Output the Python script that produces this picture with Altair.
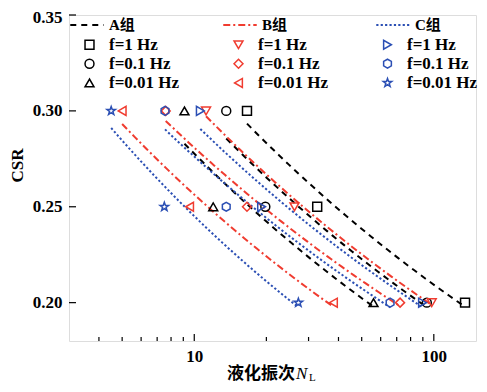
import altair as alt
import pandas as pd

# ---------------- data ----------------
CSR_LEVELS = [0.30, 0.25, 0.20]

A_1HZ = [16.6, 32.6, 135.0]
A_01HZ = [13.6, 19.8, 93.5]
A_001HZ = [9.1, 12.0, 56.0]
B_1HZ = [11.2, 26.2, 98.0]
B_01HZ = [7.6, 16.6, 72.3]
B_001HZ = [5.0, 9.56, 38.1]
C_1HZ = [10.6, 19.1, 89.7]
C_01HZ = [7.55, 13.6, 65.7]
C_001HZ = [4.5, 7.5, 27.2]

GROUPS = ["A组", "B组", "C组"]
GROUP_COLORS = ["#000000", "#f03c30", "#2b4fb4"]
GROUP_DASHES = [[6, 5], [7, 3, 2, 3], [2.2, 2.2]]

FREQ_LABELS = ["f=1 Hz", "f=0.1 Hz", "f=0.01 Hz"]

X_MAJOR = [10, 100]
X_MINOR = [4, 5, 6, 7, 8, 9, 20, 30, 40, 50, 60, 70, 80, 90]
Y_TICKS = [0.20, 0.25, 0.30, 0.35]

HEX = "M0,-1L0.866,-0.5L0.866,0.5L0,1L-0.866,0.5L-0.866,-0.5Z"
STAR = ("M0,-1L0.235,-0.324L0.951,-0.309L0.380,0.124L0.588,0.809L0,0.4"
        "L-0.588,0.809L-0.380,0.124L-0.951,-0.309L-0.235,-0.324Z")

# series: (freq label, values, shape)
SERIES = {
    "A": [(FREQ_LABELS[0], A_1HZ, "square"), (FREQ_LABELS[1], A_01HZ, "circle"),
          (FREQ_LABELS[2], A_001HZ, "triangle-up")],
    "B": [(FREQ_LABELS[0], B_1HZ, "triangle-down"), (FREQ_LABELS[1], B_01HZ, "diamond"),
          (FREQ_LABELS[2], B_001HZ, "triangle-left")],
    "C": [(FREQ_LABELS[0], C_1HZ, "triangle-right"), (FREQ_LABELS[1], C_01HZ, HEX),
          (FREQ_LABELS[2], C_001HZ, STAR)],
}

rows = []
KEYS, SHAPES, PCOLORS = [], [], []
for gi, g in enumerate(["A", "B", "C"]):
    for lab, vals, shp in SERIES[g]:
        key = g + "|" + lab
        KEYS.append(key)
        SHAPES.append(shp)
        PCOLORS.append(GROUP_COLORS[gi])
        for n, c in zip(vals, CSR_LEVELS):
            rows.append({"series": key, "grp": GROUPS[gi], "N": n, "CSR": c})
df = pd.DataFrame(rows)

W, H = 407, 326
SERIF = "Liberation Serif, Noto Sans CJK SC"
CJK = "Noto Sans CJK SC"

xscale = alt.Scale(type="log", domain=[3, 150], nice=False)
yscale = alt.Scale(domain=[0.18, 0.35], nice=False, zero=False)

xaxis = alt.Axis(values=X_MAJOR, format="d", title=None, ticks=False, tickSize=0,
                 domain=False, grid=False, labelFont=SERIF, labelFontSize=17,
                 labelFontWeight="bold", labelColor="black", labelPadding=7,
                 labelFlush=False)
yaxis = alt.Axis(values=Y_TICKS, format=".2f", title="CSR", ticks=False, tickSize=0,
                 domain=False, grid=False, labelFont=SERIF, labelFontSize=17,
                 labelFontWeight="bold", labelColor="black", labelPadding=7,
                 labelFlush=False, titleFont=SERIF, titleFontSize=17,
                 titleFontWeight="bold", titleColor="black", titlePadding=6,
                 titleY=150,
                 labelOffset={"condition": {"test": "datum.value >= 0.349", "value": 2},
                              "value": 0})

line_legend = alt.Legend(orient="none", legendX=0, legendY=-8, columns=3, title=None,
                         symbolType="stroke", symbolSize=1120, symbolStrokeWidth=2,
                         labelFont=SERIF, labelFontSize=15, labelFontWeight="bold",
                         labelColor="black", labelOffset=4, columnPadding=84,
                         gridAlign="all")
pt_legend = alt.Legend(orient="none", legendX=12, legendY=21, columns=3, title=None,
                       symbolSize=80, symbolStrokeWidth=1.5, labelFont=SERIF,
                       labelFontSize=17, labelFontWeight="bold", labelColor="black",
                       labelOffset=11, columnPadding=50, rowPadding=1.2,
                       gridAlign="all", labelExpr="split(datum.label, '|')[1]")

X = alt.X("N:Q", scale=xscale, axis=xaxis)
Y = alt.Y("CSR:Q", scale=yscale, axis=yaxis)

lines = alt.Chart(df).transform_regression(
    "N", "CSR", method="pow", groupby=["series", "grp"]
).mark_line(strokeWidth=2).encode(
    x=X, y=Y,
    stroke=alt.Stroke("grp:N", scale=alt.Scale(domain=GROUPS, range=GROUP_COLORS),
                      legend=line_legend),
    strokeDash=alt.StrokeDash("grp:N", scale=alt.Scale(domain=GROUPS, range=GROUP_DASHES),
                              legend=line_legend),
    detail="series:N",
)

points = alt.Chart(df).mark_point(filled=False, size=80, strokeWidth=1.5, opacity=1).encode(
    x=X, y=Y,
    color=alt.Color("series:N", scale=alt.Scale(domain=KEYS, range=PCOLORS), legend=pt_legend),
    shape=alt.Shape("series:N", scale=alt.Scale(domain=KEYS, range=SHAPES), legend=pt_legend),
)

xt_major = alt.Chart(pd.DataFrame({"N": X_MAJOR})).mark_rule(color="black", strokeWidth=1.2).encode(
    x=X, y=alt.value(H), y2=alt.value(H - 7))
xt_minor = alt.Chart(pd.DataFrame({"N": X_MINOR})).mark_rule(color="black", strokeWidth=1.2).encode(
    x=X, y=alt.value(H), y2=alt.value(H - 4))
yt = alt.Chart(pd.DataFrame({"CSR": Y_TICKS})).mark_rule(color="black", strokeWidth=1.2).encode(
    y=Y, x=alt.value(0), x2=alt.value(7))

t1 = alt.Chart(pd.DataFrame({"t": ["液化振次"]})).mark_text(
    font=CJK, fontSize=17, fontWeight="bold", align="right", baseline="middle", color="black"
).encode(text="t:N", x=alt.value(226), y=alt.value(H + 33))
t2 = alt.Chart(pd.DataFrame({"t": ["N"]})).mark_text(
    font="Liberation Serif", fontSize=17, fontStyle="italic", align="left",
    baseline="middle", color="black"
).encode(text="t:N", x=alt.value(227), y=alt.value(H + 33))
t3 = alt.Chart(pd.DataFrame({"t": ["L"]})).mark_text(
    font="Liberation Serif", fontSize=11, align="left", baseline="middle", color="black"
).encode(text="t:N", x=alt.value(240), y=alt.value(H + 37))

chart = alt.layer(lines, points, xt_major, xt_minor, yt, t1, t2, t3).properties(
    width=W, height=H, autosize="none",
    padding={"left": 61, "top": 7, "right": 3, "bottom": 43},
).configure_view(stroke="black", strokeWidth=1.5).configure(background="white")

chart.save("out.html", embed_options={"renderer": "svg", "actions": False})
